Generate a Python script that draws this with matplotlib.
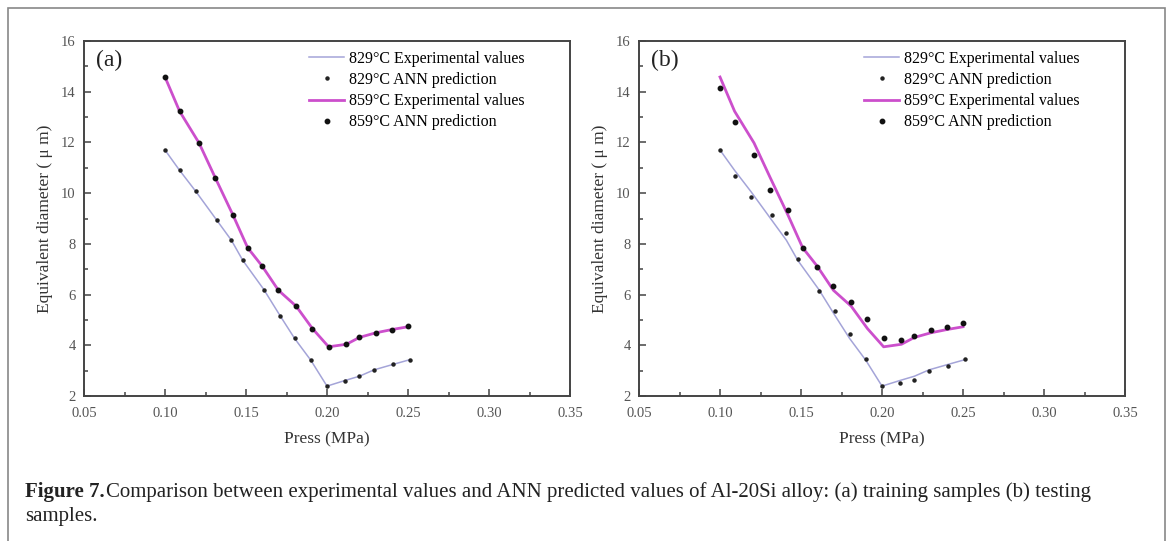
import numpy as np
import matplotlib.pyplot as plt
from matplotlib.patches import Rectangle
from matplotlib.ticker import MultipleLocator, FormatStrFormatter

plt.rcParams['font.family'] = ['Liberation Serif', 'DejaVu Serif']

# pressure (MPa)
press_829 = [0.100, 0.109, 0.119, 0.132, 0.141, 0.148, 0.161, 0.171,
             0.180, 0.190, 0.200, 0.211, 0.220, 0.229, 0.241, 0.251]
press_859 = [0.100, 0.109, 0.121, 0.131, 0.142, 0.151, 0.160, 0.170,
             0.181, 0.191, 0.201, 0.212, 0.220, 0.230, 0.240, 0.250]

# equivalent diameter (um)
exp_829 = [11.70, 10.90, 10.07, 8.93, 8.14, 7.35, 6.20, 5.17,
           4.27, 3.41, 2.39, 2.61, 2.78, 3.03, 3.25, 3.43]
exp_859 = [14.58, 13.23, 11.98, 10.61, 9.13, 7.85, 7.12, 6.17,
           5.54, 4.66, 3.94, 4.04, 4.31, 4.49, 4.62, 4.73]

ann_829_train = [11.70, 10.90, 10.07, 8.93, 8.14, 7.35, 6.20, 5.17,
                 4.27, 3.41, 2.39, 2.61, 2.78, 3.03, 3.25, 3.43]
ann_859_train = [14.60, 13.23, 11.98, 10.61, 9.13, 7.85, 7.12, 6.17,
                 5.54, 4.66, 3.94, 4.04, 4.31, 4.49, 4.62, 4.75]

ann_829_test = [11.72, 10.69, 9.83, 9.12, 8.42, 7.40, 6.16, 5.35,
                4.43, 3.44, 2.40, 2.52, 2.65, 2.98, 3.19, 3.46]
ann_859_test = [14.16, 12.81, 11.49, 10.11, 9.35, 7.83, 7.07, 6.34,
                5.72, 5.03, 4.27, 4.21, 4.38, 4.60, 4.71, 4.89]

W, H = 1171, 541
fig = plt.figure(figsize=(W / 100, H / 100), dpi=100)

# outer frame of the figure box (open at the bottom)
fig.patches.append(Rectangle((8 / W, -0.05), (1165 - 8) / W, 1.05 - 8 / H,
                             transform=fig.transFigure, fill=False,
                             edgecolor='#888888', linewidth=1.2))

col_829 = '#a4a4d8'
col_859 = '#cc4fcc'
spine_col = '#444444'


def draw_panel(ax, tag, ann829, ann859):
    ax.plot(press_829, exp_829, color=col_829, lw=1.1,
            label='829°C Experimental values')
    ax.plot(press_829, ann829, ls='none', marker='o', ms=2.2,
            color='#222222', label='829°C ANN prediction')
    ax.plot(press_859, exp_859, color=col_859, lw=2.0,
            label='859°C Experimental values')
    ax.plot(press_859, ann859, ls='none', marker='o', ms=3.2,
            color='#111111', label='859°C ANN prediction')

    ax.set_xlim(0.05, 0.35)
    ax.set_ylim(2, 16)
    ax.xaxis.set_major_locator(MultipleLocator(0.05))
    ax.xaxis.set_minor_locator(MultipleLocator(0.025))
    ax.yaxis.set_major_locator(MultipleLocator(2))
    ax.yaxis.set_minor_locator(MultipleLocator(1))
    ax.xaxis.set_major_formatter(FormatStrFormatter('%.2f'))
    ax.tick_params(which='both', direction='in', colors=spine_col,
                   labelcolor='#555555', labelsize=10.5, width=1.1)
    ax.tick_params(which='major', length=5)
    ax.tick_params(which='minor', length=3)
    ax.tick_params(axis='x', pad=8)
    ax.tick_params(axis='y', pad=6)
    for s in ax.spines.values():
        s.set_color(spine_col)
        s.set_linewidth(1.4)

    ax.set_xlabel('Press (MPa)', fontsize=12.5, color='#333333', labelpad=8)
    ax.set_ylabel('Equivalent diameter ( μ m)', fontsize=12.5,
                  color='#333333', labelpad=6)
    ax.text(0.025, 0.975, tag, transform=ax.transAxes, fontsize=17,
            va='top', ha='left', color='#222222')
    ax.legend(loc='upper right', frameon=False, fontsize=11.5,
              handlelength=2.2, handletextpad=0.3, labelspacing=0.32,
              borderaxespad=0.0, bbox_to_anchor=(0.92, 0.99))


ax_a = fig.add_axes([84 / W, 1 - 396 / H, 486 / W, 355 / H])
draw_panel(ax_a, '(a)', ann_829_train, ann_859_train)

ax_b = fig.add_axes([639 / W, 1 - 396 / H, 486 / W, 355 / H])
draw_panel(ax_b, '(b)', ann_829_test, ann_859_test)

fig.text(25 / W, 1 - 492 / H, 'Figure 7.', fontsize=15, fontweight='bold',
         va='center', ha='left', color='#222222')
fig.text(106 / W, 1 - 492 / H,
         'Comparison between experimental values and ANN predicted values '
         'of Al-20Si alloy: (a) training samples (b) testing',
         fontsize=15, va='center', ha='left', color='#222222')
fig.text(25 / W, 1 - 517 / H, 'samples.', fontsize=15, va='center',
         ha='left', color='#222222')

plt.savefig('out.png', dpi=100)
